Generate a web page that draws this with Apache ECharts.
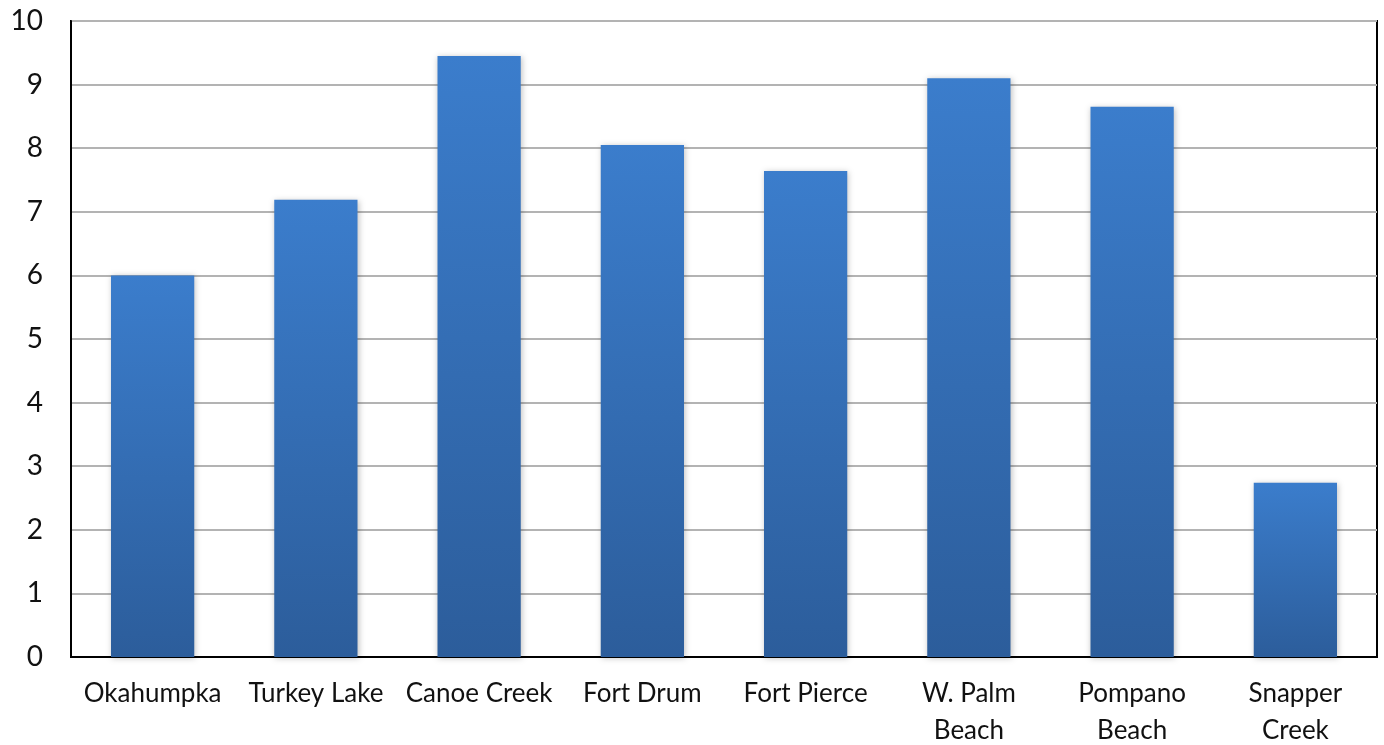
<!DOCTYPE html>
<html>
<head>
<meta charset="utf-8">
<script src="https://cdn.jsdelivr.net/npm/echarts@6/dist/echarts.min.js"></script>
<style>
  html, body { margin: 0; padding: 0; background: #fff; }
  #chart { width: 1384px; height: 745px; }
</style>
</head>
<body>
<div id="chart"></div>
<script>
const sites = ['Okahumpka', 'Turkey Lake', 'Canoe Creek', 'Fort Drum', 'Fort Pierce', 'W. Palm\nBeach', 'Pompano\nBeach', 'Snapper\nCreek'];
const values = [6.0, 7.19, 9.45, 8.05, 7.64, 9.1, 8.65, 2.74];
const yTicks = [0, 10, 1]; // min, max, step

const chart = echarts.init(document.getElementById('chart'));

const option = {
    animation: false,
    textStyle: { fontFamily: 'Lato, "Open Sans", sans-serif' },
    grid: {
        left: 71, right: 7, top: 21, bottom: 88,
        outerBoundsMode: 'none',
        containLabel: false,
        show: true, borderColor: '#000', borderWidth: 2
    },
    xAxis: {
        type: 'category',
        data: sites,
        axisLine: { lineStyle: { color: '#000', width: 2 } },
        axisTick: { show: false },
        axisLabel: { color: '#111', fontSize: 26, margin: 18, lineHeight: 37, interval: 0 }
    },
    yAxis: {
        type: 'value',
        min: yTicks[0],
        max: yTicks[1],
        interval: yTicks[2],
        axisLine: { show: true, lineStyle: { color: '#000', width: 2 } },
        axisTick: { show: false },
        axisLabel: { color: '#111', fontSize: 28, margin: 28 },
        splitLine: { lineStyle: { color: '#b3b3b3', width: 2 } }
    },
    series: [{
        type: 'bar',
        data: values,
        barWidth: '51%',
        itemStyle: {
            color: new echarts.graphic.LinearGradient(0, 0, 0, 1, [
                { offset: 0, color: '#3b7dcc' },
                { offset: 1, color: '#2c5d9b' }
            ]),
            shadowColor: 'rgba(0,0,0,0.25)',
            shadowBlur: 6,
            shadowOffsetX: 1,
            shadowOffsetY: 1
        }
    }]
};

chart.setOption(option);
</script>
</body>
</html>
